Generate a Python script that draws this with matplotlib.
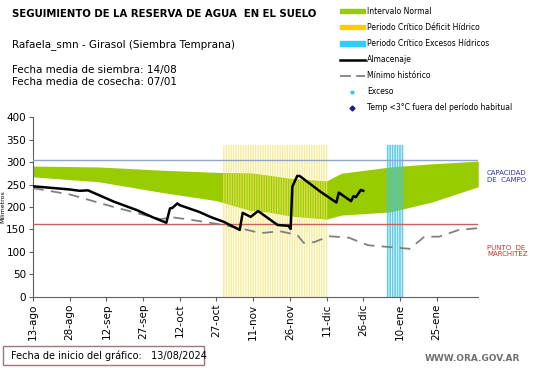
import matplotlib
matplotlib.use("Agg")
import matplotlib.pyplot as plt
from matplotlib.patches import Patch, Rectangle
from matplotlib.lines import Line2D

# days since 13/08/2024
tick_days = [0, 15, 30, 45, 60, 75, 90, 105, 120, 135, 150, 165]
tick_labels = ["13-ago", "28-ago", "12-sep", "27-sep", "12-oct", "27-oct",
               "11-nov", "26-nov", "11-dic", "26-dic", "10-ene", "25-ene"]

band_days = [0, 27, 52, 75, 89, 96, 105, 120, 126, 146, 163, 182]
band_top = [291, 289, 282, 277, 276, 271, 264, 258, 275, 289, 296, 302]
band_low = [267, 256, 233, 214, 192, 189, 180, 173, 182, 189, 211, 245]

alm_days = [0, 15, 19, 22.5, 33, 42.5, 49, 54.5, 56, 57, 59, 60, 68, 72.5, 78,
            84.5, 85.7, 89, 92, 100, 104.5, 105.3, 106, 108, 109, 117.5, 124,
            125, 130, 131, 132, 134, 135]
alm_vals = [246, 239, 236, 237, 212, 193, 177, 165, 197, 198, 208, 204, 189,
            178, 167, 149, 187, 178, 191, 160, 158, 151, 245, 269, 269, 234,
            210, 232, 213, 224, 222, 238, 236]

min_days = [0, 15, 33, 52, 57, 64, 78, 86, 93, 101, 108, 110.7, 115, 121, 129,
            137, 150, 154, 160, 166, 174, 182]
min_vals = [242, 228, 200, 173, 177, 172, 160, 151, 142, 146, 138, 120, 122,
            135, 132, 115, 109, 107, 134, 134, 149, 153]

deficit_start, deficit_end = 78, 120
exceso_start, exceso_end = 145, 151
capacidad = 305
marchitez = 162

fig = plt.figure(figsize=(5.41, 3.68), dpi=100)
ax = fig.add_axes([0.061, 0.193, 0.823, 0.489])

ax.fill_between(band_days, band_low, band_top, color="#99cc00", lw=0, zorder=1)
for d in range(deficit_start, deficit_end + 1):
    ax.vlines(d, 0, 338, color="#f2e46a", lw=1.0, alpha=0.7, zorder=2, snap=False)
for d in range(exceso_start, exceso_end + 1):
    ax.vlines(d, 0, 338, color="#44c4e4", lw=1.2, alpha=0.85, zorder=2, snap=False)

ax.axhline(capacidad, color="#8fa6cc", lw=1.0, zorder=3)
ax.axhline(marchitez, color="#c8605c", lw=1.0, zorder=3)
ax.plot(min_days, min_vals, color="#808080", lw=1.3, dashes=(6, 4), zorder=4)
ax.plot(alm_days, alm_vals, color="black", lw=1.8, zorder=5)

ax.set_xlim(0, 182)
ax.set_ylim(0, 400)
ax.set_yticks(range(0, 401, 50))
ax.set_xticks(tick_days)
ax.set_xticklabels(tick_labels, rotation=90)
ax.tick_params(labelsize=7.5, length=3, color="#606060", pad=2)
for s in ["top", "right"]:
    ax.spines[s].set_visible(False)
for s in ["left", "bottom"]:
    ax.spines[s].set_color("#606060")
ax.set_ylabel("Milímetros", fontsize=4.5, labelpad=1)

fig.text(0.022, 0.962, "SEGUIMIENTO DE LA RESERVA DE AGUA  EN EL SUELO",
         fontsize=7.3, fontweight="bold", va="center")
fig.text(0.022, 0.878, "Rafaela_smn - Girasol (Siembra Temprana)", fontsize=7.5, va="center")
fig.text(0.022, 0.81, "Fecha media de siembra: 14/08", fontsize=7.5, va="center")
fig.text(0.022, 0.777, "Fecha media de cosecha: 07/01", fontsize=7.5, va="center")

fig.text(0.9, 0.52, "CAPACIDAD\nDE  CAMPO", fontsize=5, color="#3333aa",
         va="center", linespacing=1.1)
fig.text(0.9, 0.318, "PUNTO  DE\nMARCHITEZ", fontsize=5, color="#cc3333",
         va="center", linespacing=1.1)

handles = [
    Patch(color="#99cc00"),
    Patch(color="#ffcc00"),
    Patch(color="#33ccff"),
    Line2D([], [], color="black", lw=1.8),
    Line2D([], [], color="#808080", lw=1.3, dashes=(6, 3)),
    Line2D([], [], ls="", marker="o", ms=2, color="#33ccee"),
    Line2D([], [], ls="", marker="D", ms=2.5, color="#1a1aa0"),
]
labels = ["Intervalo Normal", "Periodo Crítico Déficit Hídrico",
          "Periodo Crítico Excesos Hídricos", "Almacenaje", "Mínimo histórico",
          "Exceso", "Temp <3°C fuera del período habitual"]
fig.legend(handles, labels, loc="upper left", bbox_to_anchor=(0.615, 1.0),
           frameon=False, fontsize=5.5, handlelength=3.3, handleheight=0.5,
           labelspacing=0.93, handletextpad=0.3)

fig.patches.append(Rectangle((0.006, 0.008), 0.372, 0.052, transform=fig.transFigure,
                             fill=False, edgecolor="#9a7a7a", lw=1.0))
fig.text(0.02, 0.034, "Fecha de inicio del gráfico:   13/08/2024", fontsize=7, va="center")
fig.text(0.785, 0.027, "WWW.ORA.GOV.AR", fontsize=6.5, color="#707070",
         va="center", fontweight="bold")

fig.savefig("out.png", dpi=100)
